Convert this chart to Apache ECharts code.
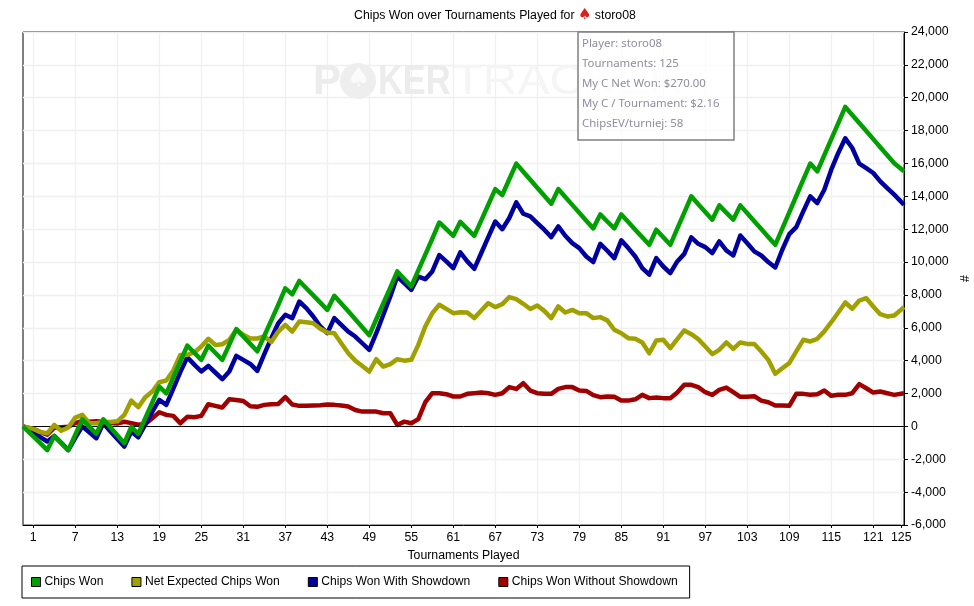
<!DOCTYPE html>
<html>
<head>
<meta charset="utf-8">
<style>html,body{margin:0;padding:0;background:#fff}#chart{width:974px;height:606px}</style>
<script src="https://cdn.jsdelivr.net/npm/echarts@6/dist/echarts.min.js"></script>
</head>
<body>
<div id="chart"></div>
<script>
var chipsWon = [-600,-1020,-1440,-590,-1020,-1440,-500,430,-10,-450,430,-50,-540,-1020,-30,-450,500,1460,2420,2010,2980,3950,4920,4480,4050,4920,4480,4050,4980,5920,5470,5020,4570,5500,6450,7400,8400,8040,8850,8410,7970,7530,7090,7950,7480,7000,6520,6040,5550,6520,7480,8450,9430,8970,8520,9490,10450,11420,12410,12000,11600,12450,12020,11600,12540,13490,14440,14080,15040,15990,15500,15010,14520,14030,13550,14440,13960,13480,13000,12520,12050,12900,12470,12050,12900,12440,11970,11510,11050,11970,11510,11050,12030,13010,14000,13520,13050,12580,13450,13010,12580,13450,12970,12490,12010,11530,11050,12040,13030,14020,15010,15990,15520,16500,17480,18460,19440,18950,18460,17970,17480,16990,16500,16010,15520];
var netExpected = [-150,-350,-420,90,-270,-70,540,700,190,190,270,270,310,700,1570,1170,1780,2120,2690,2790,3400,4350,4350,4500,4860,5330,4960,5000,5270,5880,5570,5350,5350,5470,5130,5770,6180,5770,6380,6340,6280,5940,5710,5670,5060,4450,4000,3680,3340,4090,3640,3790,4090,4000,4050,4960,6080,6890,7400,7150,6890,6950,6930,6590,7050,7500,7260,7440,7870,7740,7460,7140,7360,7030,6590,7300,6930,7090,6890,6890,6590,6650,6450,5880,5670,5370,5330,5100,4450,5230,5270,4760,5310,5840,5610,5310,4860,4400,4660,5110,4720,5110,5020,5020,4560,4050,3200,3540,3850,4560,5270,5170,5330,5780,6340,6930,7540,7160,7660,7800,7300,6830,6690,6750,7260];
var withShowdown = [-350,-650,-920,-580,-1000,-1440,-700,0,-360,-720,190,-300,-760,-1230,-310,-660,100,900,1610,1310,2300,3300,4210,3760,3340,3680,3280,2870,3340,4290,4050,3800,3380,4400,5370,6280,6790,6590,7600,7200,6690,6080,5670,6590,6180,5770,5470,5060,4660,5670,6790,7910,9120,8720,8310,9120,8960,9430,10420,10040,9630,10590,10040,9590,10550,11520,12470,12000,12680,13630,12940,12780,12370,11970,11520,12170,11600,11150,10850,10340,10000,11110,10690,10240,11320,10850,10340,9630,9230,10240,9730,9330,10040,10500,11500,11110,10910,10550,11260,10710,10400,11620,11150,10650,10400,10000,9670,10750,11700,12130,13080,14000,13590,14400,15620,16640,17530,16940,15990,15720,15420,14910,14500,14100,13490];
var withoutShowdown = [-150,-350,-500,-80,-50,-20,200,330,290,310,290,200,180,280,200,100,150,500,860,700,640,190,580,560,640,1350,1250,1150,1650,1610,1550,1230,1190,1310,1350,1370,1780,1330,1250,1250,1270,1290,1330,1310,1270,1210,1000,900,900,900,800,800,90,290,190,440,1470,2020,2020,1960,1820,1820,1980,2020,2060,2020,1920,2020,2390,2280,2630,2180,2020,1980,1980,2280,2390,2390,2180,2160,1900,1780,1820,1800,1570,1570,1650,1920,1720,1760,1720,1720,2060,2530,2530,2390,2080,1920,2220,2360,2080,1800,1800,1840,1570,1470,1270,1270,1250,1980,1980,1920,1960,2180,1860,1920,1920,2020,2570,2320,2060,2120,2020,1920,2020];
var tickTournaments = [1,7,13,19,25,31,37,43,49,55,61,67,73,79,85,91,97,103,109,115,121,125];
var infoLines = ['Player: storo08','Tournaments: 125','My C Net Won: $270.00','My C / Tournament: $2.16','ChipsEV/turniej: 58'];

var FONT = '"Liberation Sans", Arial, sans-serif';
// the lines run border to border, a little past tournaments 1 and 125
var xStart = -0.47;
var xEnd = 125.39;

function toPoints(values) {
  var pts = [[xStart, 0]];
  values.forEach(function (v, i) {
    pts.push([i === values.length - 1 ? xEnd : i + 1, v]);
  });
  return pts;
}

function lineSeries(name, color, values, z) {
  return {
    name: name,
    type: 'line',
    data: toPoints(values),
    showSymbol: false,
    symbol: 'none',
    z: z,
    clip: true,
    lineStyle: { color: color, width: 4.5, join: 'round' },
    itemStyle: { color: color }
  };
}

var redSeries = lineSeries('Chips Won Without Showdown', '#a00000', withoutShowdown, 3);
redSeries.markLine = {
  silent: true,
  symbol: 'none',
  label: { show: false },
  animation: false,
  lineStyle: { color: '#000', width: 1, type: 'solid' },
  data: [{ yAxis: 0 }]
};

var graphic = [
  // watermark
  { type: 'text', z: 1, x: 313, y: 61, style: { text: 'P', font: 'bold 42px ' + FONT, fill: '#ececec' } },
  { type: 'circle', z: 1, shape: { cx: 358, cy: 81, r: 18 }, style: { fill: '#eeeeee' } },
  { type: 'text', z: 1, x: 347, y: 66, style: { text: '♠', font: '26px "DejaVu Sans"', fill: '#fbfbfb' } },
  { type: 'text', z: 1, x: 378, y: 61, scaleX: 0.82, style: { text: 'KER', font: 'bold 42px ' + FONT, fill: '#ececec' } },
  { type: 'text', z: 1, x: 453, y: 61, scaleX: 1.15, style: { text: 'TRACKER', font: '42px ' + FONT, fill: '#f5f5f5' } },
  // info box
  { type: 'rect', z: 20, shape: { x: 578, y: 32, width: 156, height: 108 },
    style: { fill: 'rgba(255,255,255,0.75)', stroke: '#808080', lineWidth: 1.5 } }
];
infoLines.forEach(function (line, i) {
  graphic.push({ type: 'text', z: 21, x: 582, y: 38 + i * 20,
    style: { text: line, font: '11.4px "Noto Sans"', fill: '#8e8e9e' } });
});

var chart = echarts.init(document.getElementById('chart'), null, { renderer: 'canvas' });
chart.setOption({
  animation: false,
  backgroundColor: '#fff',
  title: {
    text: 'Chips Won over Tournaments Played for {s|♠} storo08',
    left: 354,
    top: 8,
    padding: 0,
    textStyle: {
      fontFamily: FONT, fontSize: 12.3, fontWeight: 'normal', color: '#000',
      rich: { s: { color: '#d8201c', fontSize: 15, fontFamily: '"DejaVu Sans"' } }
    }
  },
  legend: {
    left: 22,
    top: 566,
    orient: 'horizontal',
    padding: [10, 12, 10, 9],
    itemGap: 28,
    itemWidth: 9,
    itemHeight: 9,
    icon: 'rect',
    borderColor: '#000',
    borderWidth: 1,
    itemStyle: { borderColor: '#000', borderWidth: 1 },
    textStyle: { fontFamily: FONT, fontSize: 12.1, color: '#000', padding: [0, 0, 0, -1] },
    data: ['Chips Won', 'Net Expected Chips Won', 'Chips Won With Showdown', 'Chips Won Without Showdown']
  },
  grid: { left: 23, right: 70, top: 32, bottom: 81, show: true, borderColor: '#000', borderWidth: 1, backgroundColor: '#fff', outerBoundsMode: 'none' },
  xAxis: {
    type: 'value',
    min: xStart,
    max: xEnd,
    name: 'Tournaments Played',
    nameLocation: 'middle',
    nameGap: 25,
    nameTextStyle: { fontFamily: FONT, fontSize: 12.3, color: '#000' },
    axisLine: { onZero: false, lineStyle: { color: '#000' } },
    axisTick: { show: true, length: 3, customValues: tickTournaments, lineStyle: { color: '#000' } },
    axisLabel: { customValues: tickTournaments, fontFamily: FONT, fontSize: 12.3, color: '#000', margin: 7, hideOverlap: false },
    splitLine: { show: true, lineStyle: { color: '#f0f0f0', width: 1.3 } }
  },
  yAxis: {
    type: 'value',
    position: 'right',
    min: -6000,
    max: 24000,
    interval: 2000,
    name: '#',
    nameLocation: 'middle',
    nameGap: 50,
    nameRotate: 90,
    nameTextStyle: { fontFamily: FONT, fontSize: 12.3, color: '#000' },
    axisLine: { show: true, onZero: false, lineStyle: { color: '#000' } },
    axisTick: { show: true, length: 4, lineStyle: { color: '#000' } },
    axisLabel: {
      fontFamily: FONT, fontSize: 12.3, color: '#000', margin: 7, padding: [4, 0, 0, 0],
      formatter: function (v) { return v.toLocaleString('en-US'); }
    },
    splitLine: { show: true, lineStyle: { color: '#f0f0f0', width: 1.3 } }
  },
  series: [
    redSeries,
    lineSeries('Chips Won With Showdown', '#0000a0', withShowdown, 4),
    lineSeries('Net Expected Chips Won', '#a0a000', netExpected, 5),
    lineSeries('Chips Won', '#00a000', chipsWon, 6)
  ],
  graphic: graphic
});
</script>
</body>
</html>
